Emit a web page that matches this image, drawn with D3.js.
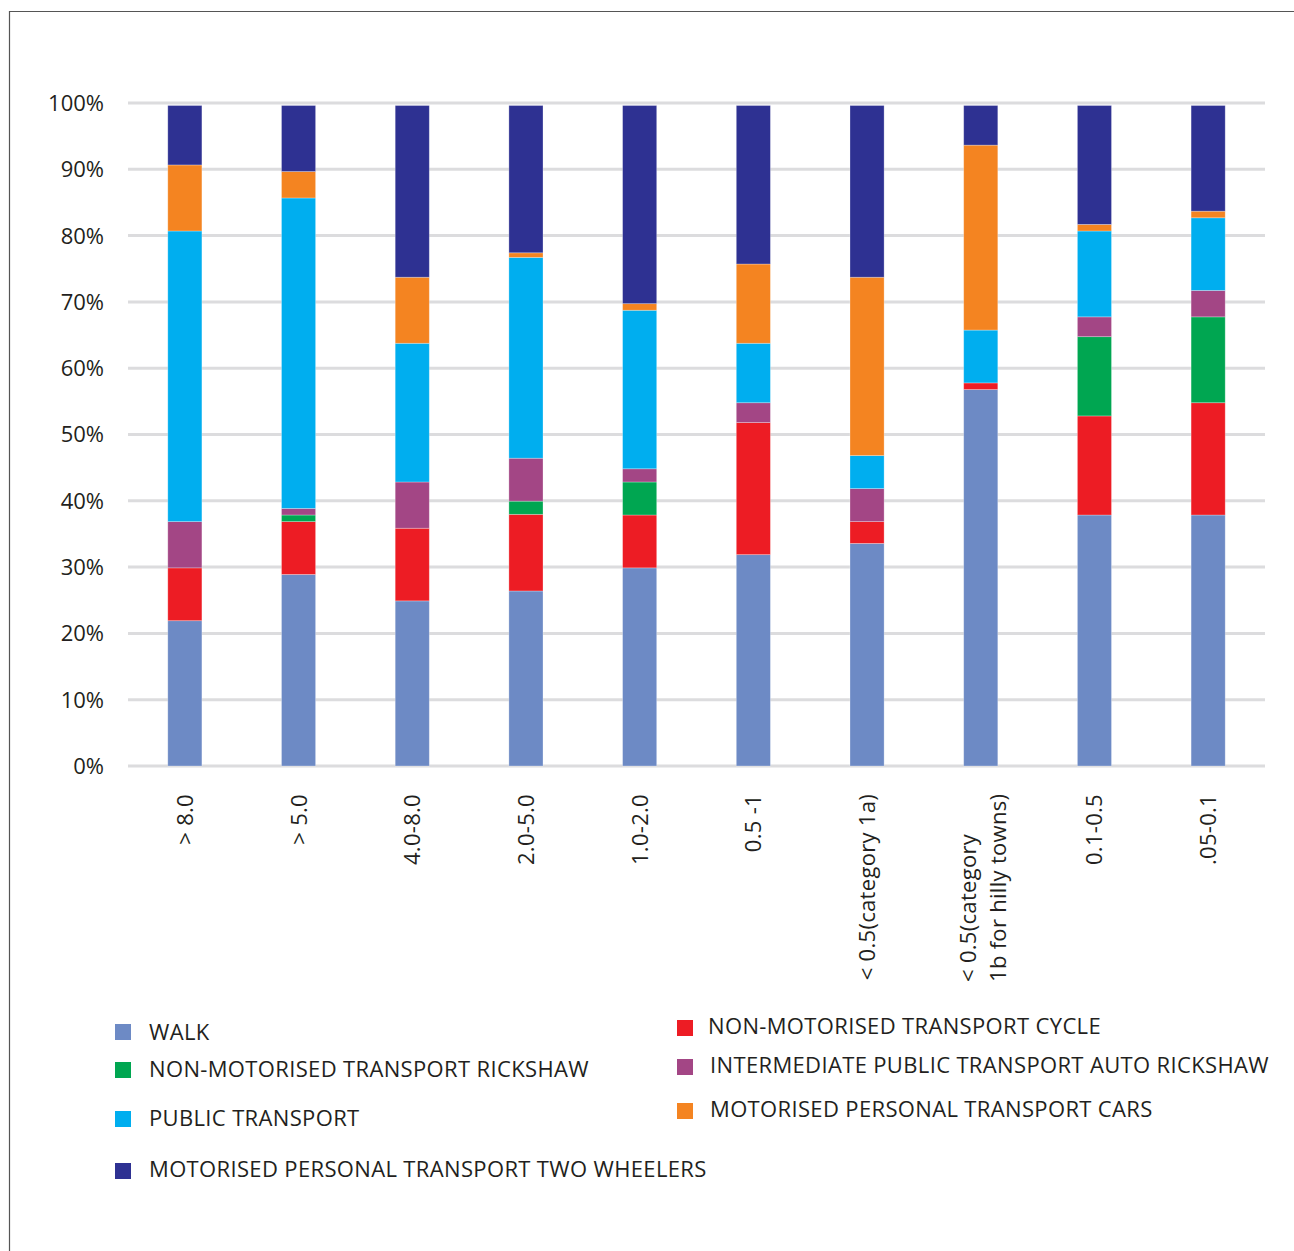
<!DOCTYPE html>
<html><head><meta charset="utf-8">
<script src="https://cdn.jsdelivr.net/npm/d3@7"></script>
<style>body{margin:0;background:#fff}svg{display:block}text{font-family:"Open Sans",sans-serif;fill:#231f20}</style>
</head><body><svg id="c" width="1294" height="1251"></svg>
<script>
const categories = ["> 8.0", "> 5.0", "4.0-8.0", "2.0-5.0", "1.0-2.0", "0.5 -1", "< 0.5(category 1a)", "< 0.5(category|1b for hilly towns)", "0.1-0.5", ".05-0.1"];
const walk      = [22, 29, 25, 26.5, 30, 32, 33.7, 57, 38, 38];
const cycle     = [8, 8, 11, 11.6, 8, 20, 3.3, 1, 15, 17];
const rickshaw  = [0, 1, 0, 2, 5, 0, 0, 0, 12, 13];
const auto      = [7, 1, 7, 6.5, 2, 3, 5, 0, 3, 4];
const publicT   = [44, 47, 21, 30.4, 24, 9, 5, 8, 13, 11];
const cars      = [10, 4, 10, 0.7, 1, 12, 27, 28, 1, 1];
const twoWheel  = [9, 10, 26, 22.3, 30, 24, 26, 6, 18, 16];
const yTicks = [0, 10, 20, 30, 40, 50, 60, 70, 80, 90, 100];

const seriesNames = ["WALK", "NON-MOTORISED TRANSPORT CYCLE", "NON-MOTORISED TRANSPORT RICKSHAW", "INTERMEDIATE PUBLIC TRANSPORT AUTO RICKSHAW", "PUBLIC TRANSPORT", "MOTORISED PERSONAL TRANSPORT CARS", "MOTORISED PERSONAL TRANSPORT TWO WHEELERS"];
const seriesVals = [walk, cycle, rickshaw, auto, publicT, cars, twoWheel];
const colors = ["#6d8ac5", "#ed1c24", "#00a651", "#a34685", "#00aeef", "#f48421", "#2e3192"];

const svg = d3.select("#c");
svg.append("path").attr("d","M9.5,1251 V11.5 H1294").attr("fill","none").attr("stroke","#555").attr("stroke-width",1.2);

const x = d3.scaleBand().domain(categories).range([128, 1265]).paddingInner(0.7).paddingOuter(0.35);
const y = d3.scaleLinear().domain([0, 100]).range([766, 103]);
const yBar = d3.scaleLinear().domain([0, 100]).range([766, 105.5]);

svg.append("g").selectAll("line").data(yTicks).join("line")
  .attr("x1",128).attr("x2",1265).attr("y1",d=>y(d)).attr("y2",d=>y(d))
  .attr("stroke","#dcdcde").attr("stroke-width",3);

const yAxis = d3.axisLeft(y).tickValues(yTicks).tickFormat(d=>d+"%").tickSize(0).tickPadding(0);
const ya = svg.append("g").attr("transform","translate(104,0)").call(yAxis);
ya.select(".domain").remove();
ya.selectAll("text").attr("font-size",22).attr("font-family","'Open Sans',sans-serif").attr("fill","#231f20").attr("dy","0.34em");

const rows = categories.map((c,i)=>{const o={cat:c}; seriesNames.forEach((s,j)=>o[s]=seriesVals[j][i]); return o;});
const stack = d3.stack().keys(seriesNames)(rows);
svg.append("g").selectAll("g").data(stack).join("g").attr("fill",(d,i)=>colors[i])
  .selectAll("rect").data(d=>d).join("rect")
  .attr("x",d=>x(d.data.cat)).attr("width",x.bandwidth())
  .attr("y",d=>yBar(d[1])).attr("height",d=>Math.max(0,yBar(d[0])-yBar(d[1])))
  .attr("stroke","#ffffff").attr("stroke-opacity",0.35).attr("stroke-width",0.8);

const xl = svg.append("g");
categories.forEach(c=>{
  const cx = x(c)+x.bandwidth()/2;
  const lines = c.split("|");
  if(lines.length===1){
    xl.append("text").attr("transform",`translate(${cx+8},794) rotate(-90)`).attr("text-anchor","end")
      .attr("font-size",22).attr("letter-spacing",0.3).text(c);
  } else {
    lines.forEach((l,k)=>{
      xl.append("text").attr("transform",`translate(${cx-5+k*30},982) rotate(-90)`).attr("text-anchor","start")
        .attr("font-size",22).attr("letter-spacing",0.3).text(l);
    });
  }
});

const legendPos = [
  {i:0, sx:115, sy:1024, tx:149, ty:1032},
  {i:2, sx:115, sy:1062, tx:149, ty:1069},
  {i:4, sx:115, sy:1111, tx:149, ty:1118},
  {i:6, sx:115, sy:1163, tx:149, ty:1169},
  {i:1, sx:677, sy:1020, tx:708, ty:1026},
  {i:3, sx:677, sy:1059, tx:710, ty:1065},
  {i:5, sx:677, sy:1103, tx:710, ty:1109}
];
const lg = svg.append("g");
legendPos.forEach(p=>{
  lg.append("rect").attr("x",p.sx).attr("y",p.sy).attr("width",16).attr("height",16).attr("fill",colors[p.i]);
  lg.append("text").attr("x",p.tx).attr("y",p.ty).attr("dy","0.35em").attr("font-size",22).attr("letter-spacing",0.35).text(seriesNames[p.i]);
});
</script></body></html>
